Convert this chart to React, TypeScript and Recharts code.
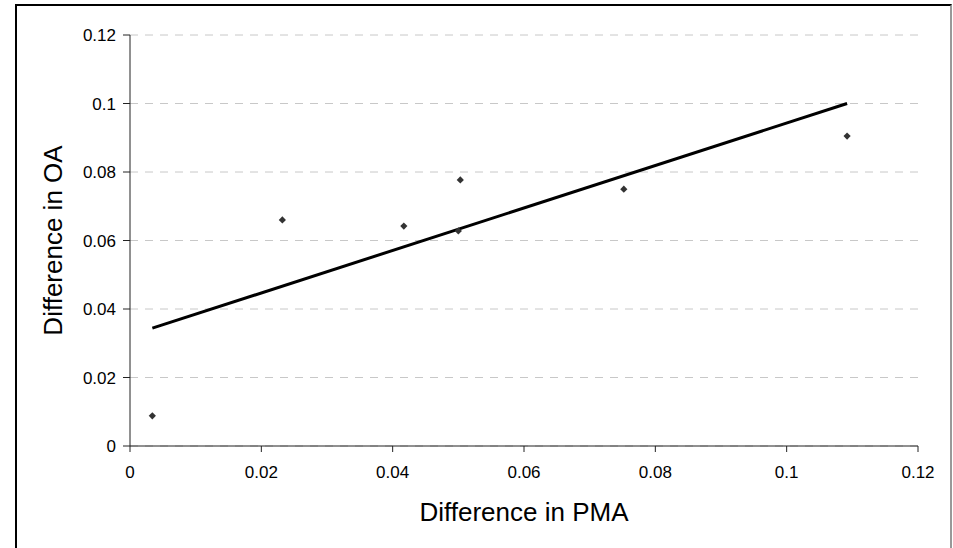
import { ScatterChart, Scatter, XAxis, YAxis, CartesianGrid, Label } from "recharts";

// PMA / OA differences
const pmaDiff = [0.0034, 0.0232, 0.0417, 0.0503, 0.0500, 0.0752, 0.1092];
const oaDiff = [0.0088, 0.0660, 0.0642, 0.0777, 0.0628, 0.0750, 0.0905];

// end points of the fitted trend line
const trendX = [0.0034, 0.1092];
const trendY = [0.0344, 0.1];

const axisTicks = [0, 0.02, 0.04, 0.06, 0.08, 0.1, 0.12];

const points = pmaDiff.map((x, i) => ({ x, y: oaDiff[i] }));
const trend = trendX.map((x, i) => ({ x, y: trendY[i] }));

const font = '"Liberation Sans", Arial, sans-serif';

const Diamond = (props: any) => {
  const { cx, cy } = props;
  const r = 3.6;
  return (
    <polygon
      points={`${cx},${cy - r} ${cx + r},${cy} ${cx},${cy + r} ${cx - r},${cy}`}
      fill="#333"
    />
  );
};

export default function App() {
  return (
    <div
      style={{
        position: "fixed",
        left: 0,
        top: 0,
        width: 953,
        height: 548,
        background: "#fff",
        overflow: "hidden",
      }}
    >
      <div
        style={{
          position: "absolute",
          left: 15,
          top: 4,
          width: 933,
          height: 600,
          borderLeft: "2px solid #000",
          borderTop: "2px solid #000",
          borderRight: "2px solid #999",
        }}
      />
      <div style={{ position: "absolute", left: 0, top: 0 }}>
        <ScatterChart
          width={953}
          height={548}
          margin={{ top: 35, right: 35, bottom: 72, left: 70 }}
        >
          <CartesianGrid vertical={false} stroke="#c8c8c8" strokeDasharray="8 7" />
          <XAxis
            type="number"
            dataKey="x"
            domain={[0, 0.12]}
            ticks={axisTicks}
            height={30}
            tickSize={6}
            tickMargin={14}
            stroke="#222"
            tick={{ fontSize: 17, fill: "#000", fontFamily: font }}
          >
            <Label
              content={(p: any) => {
                const vb = p.viewBox;
                return (
                  <text
                    x={vb.x + vb.width / 2}
                    y={521}
                    textAnchor="middle"
                    fontSize={26}
                    fontFamily={font}
                    fill="#000"
                  >
                    Difference in PMA
                  </text>
                );
              }}
            />
          </XAxis>
          <YAxis
            type="number"
            dataKey="y"
            domain={[0, 0.12]}
            ticks={axisTicks}
            width={60}
            tickSize={7}
            tickMargin={7}
            stroke="#222"
            tick={{ fontSize: 17, fill: "#000", fontFamily: font }}
          >
            <Label
              content={(p: any) => {
                const vb = p.viewBox;
                const cy = vb.y + vb.height / 2;
                return (
                  <text
                    x={62}
                    y={cy}
                    transform={`rotate(-90 62 ${cy})`}
                    textAnchor="middle"
                    fontSize={26}
                    fontFamily={font}
                    fill="#000"
                  >
                    Difference in OA
                  </text>
                );
              }}
            />
          </YAxis>
          <Scatter
            data={trend}
            line={{ stroke: "#000", strokeWidth: 3 }}
            lineType="joint"
            shape={() => <g />}
            isAnimationActive={false}
          />
          <Scatter data={points} shape={Diamond} isAnimationActive={false} />
        </ScatterChart>
      </div>
    </div>
  );
}
